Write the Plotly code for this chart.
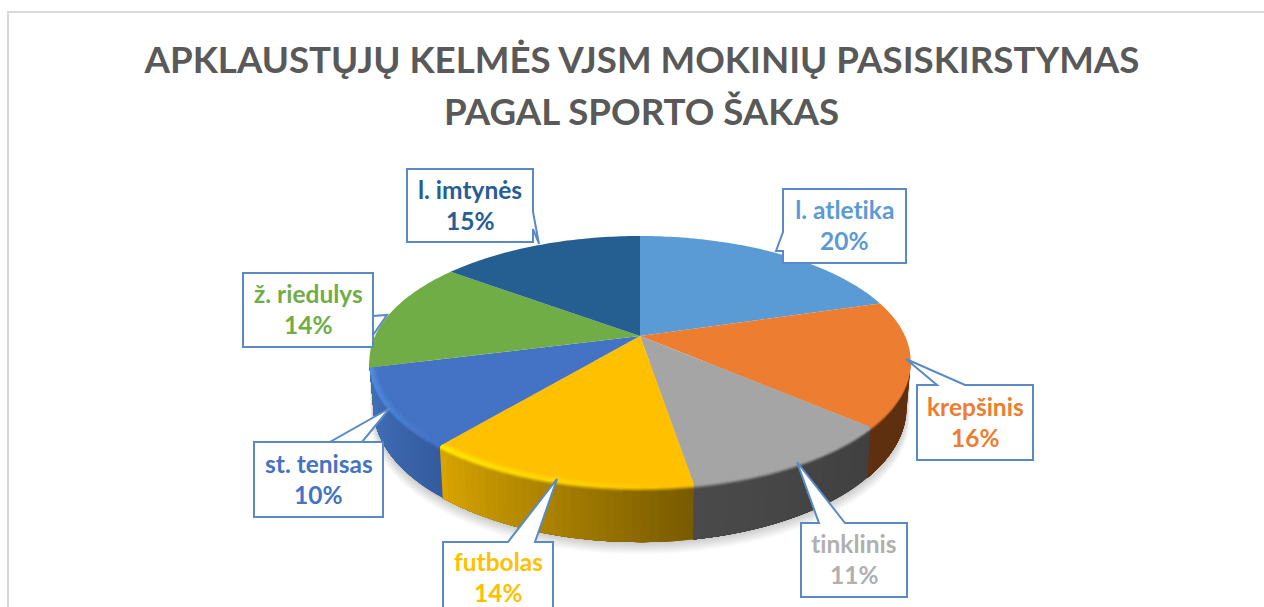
"""3D-looking pie of pupils by sport, drawn on a pixel-sized cartesian plot."""
import math
import plotly.graph_objects as go

TITLE_LINE_1 = "APKLAUSTŲJŲ KELMĖS VJSM MOKINIŲ PASISKIRSTYMAS"
TITLE_LINE_2 = "PAGAL SPORTO ŠAKAS"
SPORTS = ["l. atletika", "krepšinis", "tinklinis", "futbolas",
          "st. tenisas", "ž. riedulys", "l. imtynės"]
SHARES = [20.4, 16.0, 11.0, 13.6, 10.0, 14.2, 14.8]

TOP_COLORS = ["#5B9BD5", "#ED7D31", "#A5A5A5", "#FFC000", "#4472C4", "#70AD47", "#255E91"]
TEXT_COLORS = ["#5B9BD5", "#ED7D31", "#B0B0B0", "#FFC000", "#4472C4", "#70AD47", "#255E91"]
WALL_LEFT = ["#37597a", "#5F3010", "#4A4A4A", "#D9A500", "#4272BE", "#4F7A32", "#1a4266"]
WALL_RIGHT = ["#37597a", "#5F3010", "#404040", "#775A00", "#355C9E", "#4F7A32", "#1a4266"]
RIM_START = ["#5B9BD5", "#ED7D31", "#A5A5A5", "#FFE800", "#5090E6", "#70AD47", "#255E91"]
RIM_END = ["#5B9BD5", "#ED7D31", "#A5A5A5", "#FFC000", "#4472C4", "#70AD47", "#255E91"]

BORDER = "#D9D9D9"
CALLOUT = "#5A8AC6"
TITLE_COLOR = "#595959"

# perspective model of the pie, in screen pixels
CX, CY = 640, 336
RX, RY = 265, 120.3
PERSP = 0.203
DEPTH = 44

# callout boxes: x0, x1, y0, y1, then the pointer (base, tip, base)
BOXES = [
    (783, 906, 189, 263, [(783, 232), (776, 251), (783, 251)]),
    (917, 1033, 385, 460, [(965, 385), (906, 359), (937, 385)]),
    (801, 907, 523, 597, [(845, 523), (797, 462), (819, 523)]),
    (443, 553, 542, 614, [(535, 542), (557, 479), (508, 542)]),
    (254, 383, 442, 517, [(330, 442), (390, 408), (362, 442)]),
    (243, 373, 273, 347, [(373, 335), (387, 315), (373, 316)]),
    (407, 533, 169, 242, [(533, 212), (539, 244), (533, 229)]),
]


def project(angle, radius=1.0, z=0.0):
    """Screen point for a pie angle (clockwise from the top), radius and depth 0-1."""
    across = radius * math.sin(angle)
    forward = -radius * math.cos(angle)
    denom = 1 - PERSP * forward
    x = CX + RX * across / denom * (1 - 0.015 * z)
    y = CY + (RY * forward + DEPTH * z) / denom
    return x, y


def mix(c1, c2, t):
    a = [int(c1[i:i + 2], 16) for i in (1, 3, 5)]
    b = [int(c2[i:i + 2], 16) for i in (1, 3, 5)]
    return "#" + "".join(f"{round(p + (q - p) * t):02x}" for p, q in zip(a, b))


def smooth(t):
    return t * t * (3 - 2 * t)


def rim_profile(t):
    """Radius and depth across the bevel, t=0 on the top face, t=1 down on the wall."""
    return 0.97 + 0.03 * min(t * 2, 1), 0.1 * max(t * 2 - 1, 0)


def add_poly(fig, pts, color, name=None):
    fig.add_trace(go.Scatter(
        x=[p[0] for p in pts], y=[p[1] for p in pts],
        mode="lines", fill="toself", fillcolor=color,
        line=dict(width=0, simplify=False),
        showlegend=False,
        hoverinfo="text" if name else "skip", text=name, hoveron="fills" if name else None,
    ))


fig = go.Figure()

total = sum(SHARES)
edges = [0.0]
for v in SHARES:
    edges.append(edges[-1] + v / total * 2 * math.pi)

# the wall is only visible between the two silhouette points of the ellipse
FRONT_FROM = math.pi - math.acos(PERSP)
FRONT_TO = math.pi + math.acos(PERSP)

# soft shadow below the pie
arc = [FRONT_FROM + (FRONT_TO - FRONT_FROM) * i / 80 for i in range(81)]
for grow in range(1, 11):
    pts = [project(a, 1.0, 1.0) for a in arc]
    pts = [(CX + (x - CX) * (1 + 0.0012 * grow), y + 1.2 * grow) for x, y in pts]
    add_poly(fig, pts + [project(arc[-1]), project(arc[0])], "rgba(0,0,0,0.018)")

# side wall, split into overlapping strips for the gradient
for i in range(len(SHARES)):
    a0 = max(edges[i], FRONT_FROM)
    a1 = min(edges[i + 1], FRONT_TO)
    if a1 <= a0:
        continue
    steps = max(2, int(math.degrees(a1 - a0) / 1.5))
    for s in range(steps):
        b0 = a0 + (a1 - a0) * s / steps
        # every strip runs on to the end of the slice, the next one paints over it
        col = mix(WALL_RIGHT[i], WALL_LEFT[i], (s + 0.5) / steps)
        n = steps - s + 1
        along = [b0 + (a1 - b0) * k / n for k in range(n + 1)]
        pts = [project(b) for b in along] + [project(b, 1, 1) for b in reversed(along)]
        add_poly(fig, pts, col)

# top of the pie
for i, sport in enumerate(SPORTS):
    n = max(8, int(math.degrees(edges[i + 1] - edges[i])))
    pts = [(CX, CY)] + [project(edges[i] + (edges[i + 1] - edges[i]) * s / n) for s in range(n + 1)]
    add_poly(fig, pts, TOP_COLORS[i], name=f"{sport}: {round(SHARES[i])}%")

# bevel along the front rim: levels paint from the outside in, each overlapping
# the next one only a little so their edges do not pile up on the same pixels
LEVELS = 10
for i in range(len(SHARES)):
    a0 = max(edges[i], FRONT_FROM)
    a1 = min(edges[i + 1], FRONT_TO)
    if a1 <= a0:
        continue
    segs = max(2, int(math.degrees(a1 - a0) / 3))
    step = (a1 - a0) / segs
    for s in range(segs):
        b0 = a0 + step * s
        b1 = min(a1, b0 + 2 * step)
        frac = (s + 0.5) / segs
        hi = mix(RIM_START[i], RIM_END[i], 1 - frac)
        wall = mix(WALL_RIGHT[i], WALL_LEFT[i], frac)
        along = [b0 + (b1 - b0) * k / 6 for k in range(7)]
        for lv in range(LEVELS - 1, -1, -1):
            tm = (lv + 0.5) / LEVELS
            if tm < 0.5:
                col = mix(TOP_COLORS[i], hi, smooth(tm * 2))
            else:
                col = mix(hi, wall, smooth(tm * 2 - 1))
            r0, z0 = rim_profile(max(lv - 1, 0) / LEVELS)
            r1, z1 = rim_profile((lv + 1) / LEVELS)
            add_poly(fig, [project(b, r0, z0) for b in along]
                     + [project(b, r1, z1) for b in reversed(along)], col)

# chart frame
shapes = [dict(type="path", path="M 8 607 L 8 12 L 1264 12",
               line=dict(color=BORDER, width=2), layer="below")]

# second title line keeps the reference's wider line spacing
annotations = [dict(
    x=641, y=111, xref="x", yref="y", yanchor="middle",
    text=f"<b>{TITLE_LINE_2}</b>", showarrow=False,
    font=dict(family="Lato", size=36.7, color=TITLE_COLOR),
)]

# callouts
for i, (x0, x1, y0, y1, ptr) in enumerate(BOXES):
    corners = [(x0, y0), (x1, y0), (x1, y1), (x0, y1)]
    # insert the pointer into the side of the box it leaves from
    if ptr[0][1] == y0 and ptr[2][1] == y0:
        outline = [corners[0], ptr[2], ptr[1], ptr[0], corners[1], corners[2], corners[3]]
    elif ptr[0][0] == x1:
        outline = [corners[0], corners[1], ptr[0], ptr[1], ptr[2], corners[2], corners[3]]
    else:
        outline = [corners[0], corners[1], corners[2], corners[3], ptr[2], ptr[1], ptr[0]]
    path = "M " + " L ".join(f"{x} {y}" for x, y in outline) + " Z"
    shapes.append(dict(type="path", path=path, fillcolor="white",
                       line=dict(color=CALLOUT, width=2), layer="above"))
    mid = (y0 + y1) / 2 - 1
    for text, y in ((SPORTS[i], mid - 15.5), (f"{round(SHARES[i])}%", mid + 15.5)):
        annotations.append(dict(
            x=(x0 + x1) / 2, y=y, xref="x", yref="y",
            text=f"<b>{text}</b>", showarrow=False, yanchor="middle",
            font=dict(family="Lato", size=24.5, color=TEXT_COLORS[i]),
        ))

fig.update_layout(
    width=1264, height=607,
    margin=dict(l=0, r=0, t=0, b=0),
    paper_bgcolor="white", plot_bgcolor="white",
    title=dict(text=f"<b>{TITLE_LINE_1}</b>", x=642 / 1264, xanchor="center",
               y=1 - 60 / 607, yanchor="middle",
               font=dict(family="Lato", size=36.7, color=TITLE_COLOR)),
    xaxis=dict(range=[0, 1264], visible=False, fixedrange=True),
    yaxis=dict(range=[607, 0], visible=False, fixedrange=True),
    shapes=shapes,
    annotations=annotations,
    showlegend=False,
)

page_js = """
document.body.style.margin = '0';
document.body.style.overflow = 'hidden';
var st = document.createElement('style');
st.textContent = 'svg text { font-variant-ligatures: none !important; font-feature-settings: "liga" 0, "clig" 0 !important; }';
document.head.appendChild(st);
"""
fig.write_html("out.html", config=dict(displayModeBar=False), post_script=page_js)
